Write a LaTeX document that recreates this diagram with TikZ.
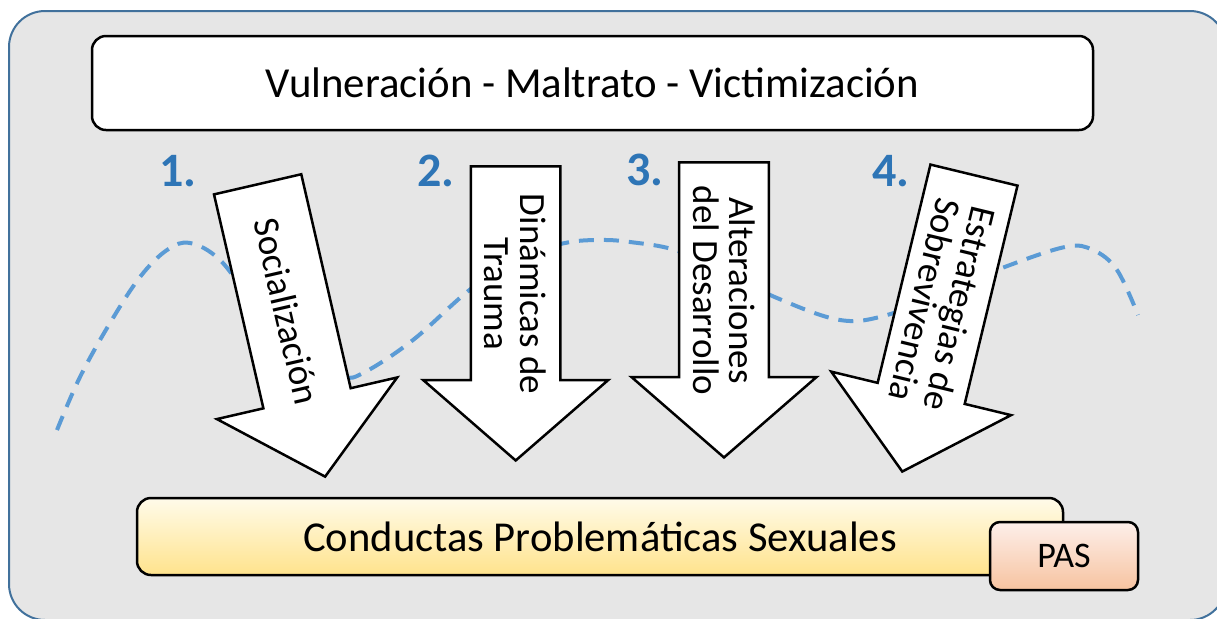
\documentclass[tikz,border=0pt]{standalone}
\usepackage{fontspec}
\setmainfont{Carlito}
\usetikzlibrary{shapes.arrows}
\definecolor{marco}{HTML}{41719C}
\definecolor{fondo}{HTML}{E6E6E6}
\definecolor{azul}{HTML}{2E75B6}
\definecolor{curva}{HTML}{5B9BD5}
\definecolor{condA}{HTML}{FFFBEA}
\definecolor{condB}{HTML}{FFE38C}
\definecolor{pasA}{HTML}{FDEFEA}
\definecolor{pasB}{HTML}{F7C3A0}
\begin{document}
\begin{tikzpicture}[x=0.5pt,y=-0.5pt,
    caja/.style={draw, line width=1.25pt, rounded corners=7pt},
    flecha/.style={single arrow, draw, fill=white, line width=1.25pt,
        minimum height=#1, minimum width=92.5pt, single arrow head extend=22.5pt,
        single arrow tip angle=98, inner xsep=0pt, align=center,
        font=\fontsize{18.5}{18}\selectfont},
    num/.style={text=azul, font=\fontsize{24}{24}\selectfont\bfseries}]
  \useasboundingbox (0,0) rectangle (1217,618);
  \clip (0,0) rectangle (1217,618);
  % marco
  \draw[marco, line width=1pt, fill=fondo, rounded corners=18pt] (9,11) rectangle (1226,620);
  \node[caja, fill=white, minimum width=500.5pt, minimum height=47pt,
        font=\fontsize{21.4}{25}\selectfont] (vulnera) at (592.5,83)
        {Vulneración - Maltrato - Victimización};
  % curva
  \draw[curva, line width=2pt, dash pattern=on 7.5pt off 5pt]
    plot[smooth, tension=0.6] coordinates {(57,430) (80,377) (110,323) (140,277) (167,250)
      (190,243) (220,260) (255,305) (305,360) (342,377) (365,372) (413,340) (467,292) (515,258)
      (565,243) (600,240) (630,242) (675,250) (725,272) (777,298) (840,320) (887,315)
      (945,292) (1002,268) (1065,247) (1093,250) (1117,270) (1138,315)};
  % flechas
  \node[flecha=150pt, inner ysep=14pt, rotate=-77] (socia) at (287,311.5) {Socialización};
  \node[flecha=147pt, inner ysep=5pt, rotate=-90] (trauma) at (515.7,294) {Dinámicas de\\Trauma};
  \node[flecha=147.5pt, inner ysep=5pt, rotate=-90] (desarrollo) at (724,290.5) {Alteraciones\\del Desarrollo};
  \node[flecha=152.5pt, inner ysep=5pt, rotate=-103.6] (sobrev) at (942.7,304.4) {Estrategias de\\Sobrevivencia};
  \node[num] (n1) at (178,171) {1.};
  \node[num] (n2) at (436,171) {2.};
  \node[num] (n3) at (645,170) {3.};
  \node[num] (n4) at (891,171) {4.};
  % abajo
  \node[caja, top color=condA, bottom color=condB, minimum width=463pt, minimum height=38.5pt,
        font=\fontsize{21.3}{25}\selectfont] (conductas) at (600,536.5)
        {Conductas Problemáticas Sexuales};
  \node[caja, rounded corners=5pt, top color=pasA, bottom color=pasB, minimum width=74pt,
        minimum height=34pt, font=\fontsize{18}{20}\selectfont] (pas) at (1064,556) {PAS};
\end{tikzpicture}
\end{document}
